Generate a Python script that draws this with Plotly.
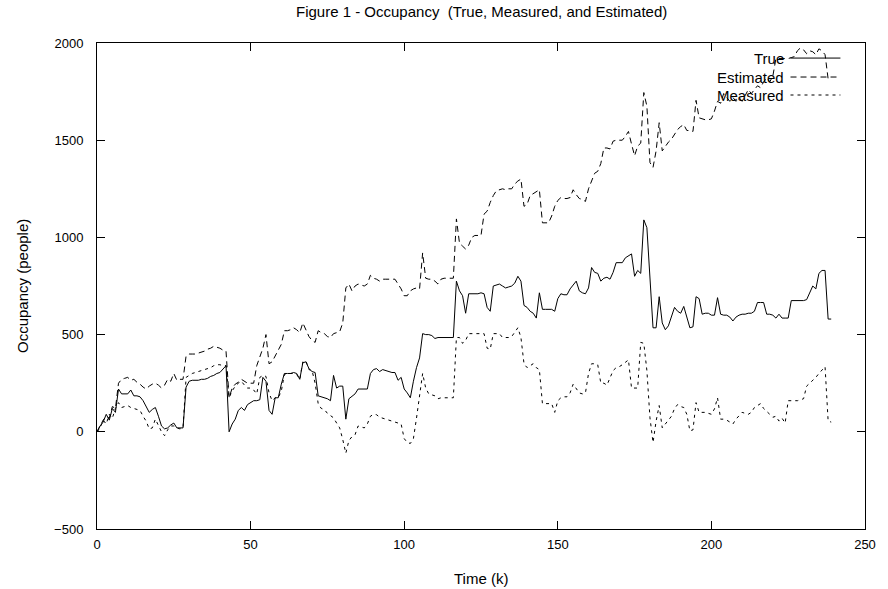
import plotly.graph_objects as go

time_k = list(range(240))

true_occ = [
    0, 30, 50, 90, 60, 120, 100, 220, 195, 195,
    195, 215, 185, 185, 180, 160, 130, 100, 115, 125,
    80, 30, 15, 20, 35, 45, 20, 20, 20, 230,
    260, 265, 265, 265, 270, 270, 275, 285, 290, 300,
    305, 320, 340, 0, 40, 65, 110, 125, 110, 140,
    150, 160, 160, 165, 280, 260, 110, 90, 175, 175,
    245, 300, 300, 300, 305, 300, 270, 355, 360, 325,
    310, 305, 185, 180, 175, 170, 160, 290, 225, 235,
    235, 65, 170, 185, 195, 220, 220, 220, 220, 300,
    320, 325, 310, 320, 315, 310, 305, 305, 265, 280,
    220, 200, 175, 260, 330, 380, 505, 500, 500, 495,
    480, 485, 485, 485, 485, 485, 485, 775, 725, 700,
    610, 710, 710, 713, 710, 715, 710, 640, 620, 750,
    755, 760, 750, 740, 745, 750, 765, 800, 775, 650,
    640, 620, 610, 585, 715, 630, 630, 630, 630, 620,
    685, 710, 705, 705, 735, 755, 775, 725, 715, 710,
    740, 845, 820, 815, 775, 790, 795, 785, 820, 870,
    870, 870, 895, 905, 915, 800, 830, 815, 1090, 1050,
    775, 535, 535, 695, 560, 525, 545, 595, 640, 620,
    610, 645, 585, 535, 540, 695, 685, 605, 610, 610,
    600, 600, 690, 605, 600, 600, 590, 570, 590, 600,
    605, 605, 610, 610, 620, 665, 665, 665, 605, 605,
    600, 585, 605, 585, 585, 585, 675, 675, 675, 675,
    675, 680, 715, 750, 735, 815, 830, 830, 580, 580,
]

estimated_occ = [
    0, 30, 60, 80, 70, 130, 120, 250, 270, 275,
    280, 265, 270, 255, 245, 230, 220, 235, 245, 250,
    240, 225, 240, 270, 260, 300, 265, 270, 270, 390,
    400, 400, 400, 405, 410, 415, 425, 430, 440, 435,
    430, 420, 415, 175, 225, 245, 255, 270, 260, 250,
    250, 250, 340, 380, 430, 500, 350, 360, 390, 415,
    450, 520, 520, 525, 535, 525, 510, 560, 520, 490,
    470, 460, 520, 510, 505, 490, 485, 505, 510, 515,
    560, 740, 760, 725, 750, 760, 755, 750, 760, 805,
    790, 785, 775, 785, 785, 785, 785, 785, 760, 735,
    700, 700, 725, 735, 740, 735, 920, 790, 785, 785,
    775, 760, 785, 790, 790, 790, 790, 1095, 970, 955,
    940, 960, 1000, 1010, 1010, 1010, 1120, 1135, 1180, 1215,
    1240, 1245, 1250, 1245, 1250, 1250, 1275, 1290, 1300, 1160,
    1170, 1215, 1225, 1235, 1245, 1075, 1075, 1075, 1110, 1160,
    1190, 1205, 1200, 1200, 1205, 1245, 1220, 1200, 1195, 1185,
    1250, 1290, 1330, 1340, 1380, 1460, 1460, 1455, 1495, 1500,
    1500, 1500, 1520, 1545, 1480, 1420, 1470, 1485, 1745, 1675,
    1385, 1360, 1445, 1590, 1445, 1470, 1490, 1505, 1530, 1555,
    1570, 1580, 1550, 1550, 1545, 1705, 1615, 1610, 1605, 1605,
    1610, 1650, 1700, 1690, 1740, 1720, 1700, 1720, 1700, 1720,
    1700, 1730, 1760, 1740, 1760, 1780, 1770, 1800, 1820, 1800,
    1830, 1920, 1920, 1920, 1920, 1920, 1925, 1930, 1960, 1975,
    1965, 1945, 1960, 1955, 1940, 1970, 1960, 1940, 1815, 1815,
]

measured_occ = [
    0, 20, 60, 40, 90, 70, 120, 150, 125, 130,
    135, 125, 120, 115, 110, 80, 55, 15, 20, 65,
    30, 0, -20, 10, 30, 30, 20, 15, 20, 280,
    290, 300, 305, 310, 315, 320, 325, 330, 340, 345,
    345, 340, 340, 175, 210, 235, 250, 260, 240, 225,
    225, 215, 195, 280, 290, 285, 200, 160, 175, 175,
    210, 295, 300, 300, 300, 295, 270, 360, 365, 320,
    315, 250, 145, 120, 115, 95, 85, 72, 45, 20,
    -40, -110, -45, -25, -15, 30, 25, 20, 40, 80,
    90, 88, 75, 70, 65, 60, 55, 50, 45, 40,
    -35, -55, -60, -35, 70, 195, 300, 225, 195, 190,
    185, 170, 175, 175, 175, 175, 175, 485, 485, 455,
    470, 505, 505, 505, 505, 505, 505, 430, 425, 505,
    505, 505, 485, 485, 485, 490, 510, 535, 485, 350,
    330, 340, 350, 330, 320, 145, 145, 145, 145, 100,
    160, 175, 180, 180, 200, 245, 225, 200, 195, 200,
    300, 350, 350, 345, 250, 250, 240, 280, 315, 330,
    335, 345, 360, 370, 225, 225, 225, 460, 455, 315,
    72, -55, 55, 135, 20, 40, 60, 80, 120, 140,
    130, 125, 90, 5, 10, 150, 100, 100, 100, 95,
    90, 118, 175, 65, 65, 60, 50, 40, 65, 85,
    100, 95, 90, 100, 125, 135, 145, 120, 105, 90,
    75, 80, 55, 70, 45, 160, 160, 160, 160, 165,
    170, 235, 250, 260, 280, 300, 320, 335, 55, 50,
]

x_ticks = [0, 50, 100, 150, 200, 250]
y_ticks = [-500, 0, 500, 1000, 1500, 2000]

series = [
    ("True", true_occ, "solid"),
    ("Estimated", estimated_occ, "6px,4px"),
    ("Measured", measured_occ, "3px,4px"),
]

FONT = "Liberation Sans, Arial, sans-serif"

fig = go.Figure()
for name, vals, dash in series:
    fig.add_trace(go.Scatter(
        x=time_k, y=vals, mode="lines", name=name,
        line=dict(color="black", width=1, dash=dash),
        showlegend=False,
    ))

# gnuplot-style key: right-aligned text with line sample on the right
key_y = [0.969, 0.930, 0.893]
shapes = []
annotations = []
for (name, vals, dash), ky in zip(series, key_y):
    annotations.append(dict(
        x=0.897, y=ky, xref="paper", yref="paper", text=name,
        showarrow=False, xanchor="right", yanchor="middle",
        font=dict(family=FONT, size=15, color="black"),
    ))
    shapes.append(dict(
        type="line", xref="paper", yref="paper",
        x0=0.903, x1=0.968, y0=ky, y1=ky,
        line=dict(color="black", width=1, dash=dash),
    ))

annotations.append(dict(
    x=0.5, y=1.0, xref="paper", yref="paper", yshift=21,
    text="Figure 1 - Occupancy  (True, Measured, and Estimated)",
    showarrow=False, xanchor="center", yanchor="bottom",
    font=dict(family=FONT, size=15, color="black"),
))
annotations.append(dict(
    x=0.5, y=0, xref="paper", yref="paper", yshift=-39,
    text="Time (k)", showarrow=False, xanchor="center", yanchor="top",
    font=dict(family=FONT, size=15, color="black"),
))
annotations.append(dict(
    x=0, y=0.5, xref="paper", yref="paper", xshift=-75,
    text="Occupancy (people)", showarrow=False, textangle=-90,
    xanchor="center", yanchor="middle",
    font=dict(family=FONT, size=15, color="black"),
))

axis_common = dict(
    showgrid=False, zeroline=False, showline=True, linecolor="black",
    linewidth=1, mirror="allticks", ticks="inside", ticklen=8,
    tickcolor="black", tickwidth=1,
    tickfont=dict(family=FONT, size=13, color="black"),
)

fig.update_layout(
    width=888, height=589,
    margin=dict(l=97, r=16, t=43, b=60),
    paper_bgcolor="white", plot_bgcolor="white",
    xaxis=dict(range=[0, 250], tickvals=x_ticks, ticklabelstandoff=3, **axis_common),
    yaxis=dict(range=[-500, 2000], tickvals=y_ticks, ticklabelstandoff=10, **axis_common),
    shapes=shapes, annotations=annotations,
)

fig.write_html(
    "out.html",
    config={"displayModeBar": False},
    post_script="document.body.style.margin='0px';document.body.style.overflow='hidden';",
)
